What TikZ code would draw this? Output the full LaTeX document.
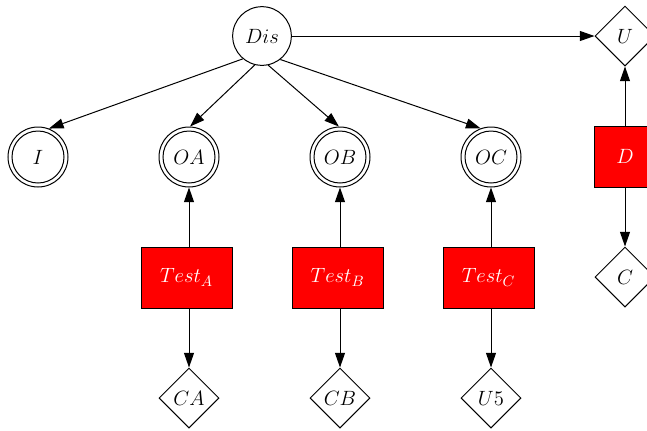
\RequirePackage{fix-cm}
\documentclass[tikz,border=0pt]{standalone}
\usetikzlibrary{arrows.meta,shapes.geometric}
\DeclareMathSizes{15.5}{15.5}{11.3}{9}
\begin{document}
\begin{tikzpicture}[x=0.75pt,y=-0.75pt,
  every node/.style={font=\fontsize{15.5}{18.5}\selectfont, inner sep=0pt},
  every path/.style={line width=0.75pt},
  circ/.style={draw, circle, minimum size=44pt},
  dcirc/.style={draw, circle, minimum size=45pt,
    path picture={\draw[line width=0.75pt] (path picture bounding box.center) circle (19.5pt);}},
  dia/.style={draw, diamond, aspect=1, minimum width=45pt, minimum height=45pt},
  testbox/.style={draw, fill=red, text=white, minimum width=68.25pt, minimum height=45.75pt},
  dbox/.style={draw, fill=red, text=white, minimum width=46.5pt, minimum height=45.75pt},
  arr/.style={-{Triangle[length=11pt,width=7.5pt]}}
]
\useasboundingbox (0,0) rectangle (647,430);
\node[circ] (Dis) at (262,36) {$Dis$};
\node[dia] (U) at (625,36) {$U$};
\node[dbox] (D) at (625,156.5) {$D$};
\node[dia] (C) at (625,277) {$C$};
\node[dcirc] (I) at (38,157) {$I$};
\node[dcirc] (OA) at (189,157) {$OA$};
\node[dcirc] (OB) at (340,157) {$OB$};
\node[dcirc] (OC) at (491,157) {$OC$};
\node[testbox] (TA) at (186.5,277.5) {$Test_A$};
\node[testbox] (TB) at (337.5,277.5) {$Test_B$};
\node[testbox] (TC) at (488.5,277.5) {$Test_C$};
\node[dia] (CA) at (189,398) {$CA$};
\node[dia] (CB) at (340,398) {$CB$};
\node[dia] (U5) at (491,398) {$U5$};
\draw[arr] (Dis) -- (U);
\draw[arr] (Dis.-130) -- (I.69);
\draw[arr] (Dis.-104) -- (OA.88);
\draw[arr] (Dis.-78) -- (OB.92);
\draw[arr] (Dis.-52) -- (OC.110);
\draw[arr] (D) -- (U);
\draw[arr] (D) -- (C);
\draw[arr] (TA.north -| OA) -- (OA);
\draw[arr] (TA.south -| CA) -- (CA);
\draw[arr] (TB.north -| OB) -- (OB);
\draw[arr] (TB.south -| CB) -- (CB);
\draw[arr] (TC.north -| OC) -- (OC);
\draw[arr] (TC.south -| U5) -- (U5);
\end{tikzpicture}
\end{document}
